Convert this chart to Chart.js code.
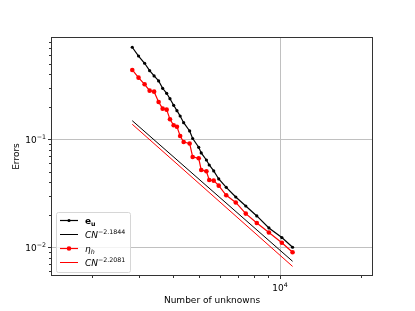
<!DOCTYPE html>
<html>
<head>
<meta charset="utf-8">
<script src="https://cdn.jsdelivr.net/npm/chart.js@4.4.1/dist/chart.umd.min.js"></script>
<style>
  html, body { margin: 0; padding: 0; background: #fff; }
  #wrap { width: 415px; height: 311px; }
</style>
</head>
<body>
<div id="wrap"><canvas id="chart" width="415" height="311"></canvas></div>
<script>
// number of unknowns of each mesh
const unknowns = [2825, 2981, 3140, 3278, 3406, 3540, 3664, 3792, 3901, 4026, 4141, 4256, 4386, 4617,
  4738, 4989, 5097, 5329, 5459, 5673, 5922, 6315, 6852, 7464, 8204, 9100, 10164, 11142];
// error e_u and estimator eta_h
const errU = [0.711, 0.590, 0.5055, 0.4318, 0.3857, 0.3466, 0.2966, 0.2666, 0.2376, 0.2064, 0.1840, 0.1643,
  0.1425, 0.1194, 0.1017, 0.0843, 0.0747, 0.0643, 0.0578, 0.0509, 0.0429, 0.0359, 0.0292, 0.0241, 0.0195,
  0.0151, 0.0123, 0.0100];
const etaH = [0.438, 0.372, 0.323, 0.282, 0.276, 0.2216, 0.192, 0.188, 0.1532, 0.1348, 0.1308, 0.1073,
  0.0944, 0.0914, 0.0686, 0.0667, 0.0520, 0.0505, 0.0420, 0.0414, 0.0372, 0.0303, 0.0260, 0.0205, 0.0168,
  0.0137, 0.0110, 0.0090];
// reference slopes C N^-p (end points)
const fitN = [2825, 11142];
const fitU = [0.1486, 0.00742];
const fitEta = [0.1377, 0.00665];

const xMajor = [1e4];
const xMinor = [2000, 3000, 4000, 5000, 6000, 7000, 8000, 9000, 20000];
const yMajor = [1e-2, 1e-1];
const yMinor = [0.006, 0.007, 0.008, 0.009, 0.02, 0.03, 0.04, 0.05, 0.06, 0.07, 0.08, 0.09,
  0.2, 0.3, 0.4, 0.5, 0.6, 0.7, 0.8];

const FONT = '"DejaVu Sans", sans-serif';
const F9 = `9px ${FONT}`;
const F6 = `6.3px ${FONT}`;

const pts = (xs, ys) => xs.map((x, i) => ({ x, y: ys[i] }));

function richWidth(ctx, parts) {
  let w = 0;
  for (const p of parts) { ctx.font = p[1]; w += ctx.measureText(p[0]).width; }
  return w;
}
function drawRich(ctx, parts, x, y) {
  for (const p of parts) {
    ctx.font = p[1];
    ctx.fillText(p[0], x, y + p[2]);
    x += ctx.measureText(p[0]).width;
  }
  return x;
}
const pow10 = v => [['10', F9, 0], [String(Math.round(Math.log10(v))).replace('-', '\u2212'), F6, -4]];

const axesPlugin = {
  id: 'mplAxes',
  beforeDatasetsDraw(chart) {
    const { ctx, chartArea: a, scales: { x, y } } = chart;
    ctx.save();
    ctx.strokeStyle = '#c0c0c0';
    ctx.lineWidth = 1;
    ctx.beginPath();
    xMajor.forEach(v => { const px = Math.round(x.getPixelForValue(v)) + 0.5; ctx.moveTo(px, a.top); ctx.lineTo(px, a.bottom); });
    yMajor.forEach(v => { const py = Math.round(y.getPixelForValue(v)) + 0.5; ctx.moveTo(a.left, py); ctx.lineTo(a.right, py); });
    ctx.stroke();
    ctx.restore();
  },
  afterDraw(chart) {
    const { ctx, chartArea: a, scales: { x, y } } = chart;
    ctx.save();
    // spines
    ctx.strokeStyle = '#333';
    ctx.lineWidth = 1;
    ctx.strokeRect(a.left + 0.5, a.top + 0.5, a.right - a.left - 1, a.bottom - a.top - 1);
    // ticks
    ctx.beginPath();
    const xt = (v, len) => { const px = Math.round(x.getPixelForValue(v)) + 0.5; ctx.moveTo(px, a.bottom); ctx.lineTo(px, a.bottom + len); };
    const yt = (v, len) => { const py = Math.round(y.getPixelForValue(v)) + 0.5; ctx.moveTo(a.left, py); ctx.lineTo(a.left - len, py); };
    xMajor.forEach(v => xt(v, 3));
    xMinor.forEach(v => xt(v, 2));
    yMajor.forEach(v => yt(v, 3));
    yMinor.forEach(v => yt(v, 2));
    ctx.stroke();

    ctx.fillStyle = '#000';
    ctx.textBaseline = 'alphabetic';
    ctx.textAlign = 'left';
    xMajor.forEach(v => {
      const parts = pow10(v);
      const w = richWidth(ctx, parts);
      drawRich(ctx, parts, x.getPixelForValue(v) - w / 2, 290.5);
    });
    yMajor.forEach(v => {
      const parts = pow10(v);
      const w = richWidth(ctx, parts);
      drawRich(ctx, parts, a.left - 5 - w, y.getPixelForValue(v) + 3.3);
    });
    // axis titles
    ctx.font = F9;
    ctx.textAlign = 'center';
    ctx.fillText('Number of unknowns', (a.left + a.right) / 2, 303);
    ctx.translate(16.5, (a.top + a.bottom) / 2);
    ctx.rotate(-Math.PI / 2);
    ctx.textBaseline = 'middle';
    ctx.fillText('Errors', 0, 0);
    ctx.restore();

    // legend
    ctx.save();
    ctx.beginPath();
    ctx.roundRect(56.5, 212.5, 74, 60, 2);
    ctx.fillStyle = 'rgba(255,255,255,0.8)';
    ctx.fill();
    ctx.strokeStyle = '#d6d6d6';
    ctx.stroke();
    const FB = `bold 9px ${FONT}`, FBs = `bold 6.3px ${FONT}`;
    const FI = `italic 9px ${FONT}`, FIs = `italic 6.3px ${FONT}`;
    const labels = [
      [['e', FB, 0], ['u', FBs, 2]],
      [['CN', FI, 0], ['\u22122.1844', F6, -4]],
      [['\u03b7', FI, 0], ['h', FIs, 2]],
      [['CN', FI, 0], ['\u22122.2081', F6, -4]],
    ];
    const rowY = [220, 234, 248, 262];
    chart.data.datasets.forEach((ds, i) => {
      const cy = rowY[i] + 0.5;
      ctx.strokeStyle = ds.borderColor;
      ctx.lineWidth = ds.borderWidth;
      ctx.beginPath();
      ctx.moveTo(60, cy);
      ctx.lineTo(78, cy);
      ctx.stroke();
      if (ds.pointRadius > 0) {
        ctx.fillStyle = ds.backgroundColor;
        ctx.beginPath();
        ctx.arc(69, cy, ds.pointRadius, 0, Math.PI * 2);
        ctx.fill();
      }
      ctx.fillStyle = '#000';
      ctx.textAlign = 'left';
      ctx.textBaseline = 'alphabetic';
      drawRich(ctx, labels[i], 85, cy + 3.2);
    });
    ctx.restore();
  }
};

new Chart(document.getElementById('chart'), {
  type: 'line',
  data: {
    datasets: [
      { label: 'e_u', data: pts(unknowns, errU), borderColor: '#000', backgroundColor: '#000',
        borderWidth: 1.2, pointRadius: 1.6, pointBorderWidth: 0, order: 4 },
      { label: 'CN^-2.1844', data: pts(fitN, fitU), borderColor: '#000', backgroundColor: '#000',
        borderWidth: 1, pointRadius: 0, order: 3 },
      { label: 'eta_h', data: pts(unknowns, etaH), borderColor: '#ff0000', backgroundColor: '#ff0000',
        borderWidth: 1.2, pointRadius: 2.3, pointBorderWidth: 0, order: 2 },
      { label: 'CN^-2.2081', data: pts(fitN, fitEta), borderColor: '#ff0000', backgroundColor: '#ff0000',
        borderWidth: 1, pointRadius: 0, order: 1 },
    ],
  },
  options: {
    responsive: false,
    animation: false,
    devicePixelRatio: 1,
    layout: { padding: { left: 51, top: 37, right: 42, bottom: 35 } },
    plugins: { legend: { display: false }, tooltip: { enabled: false } },
    elements: { line: { tension: 0 } },
    scales: {
      x: { type: 'logarithmic', min: 1409, max: 22180, display: false },
      y: { type: 'logarithmic', min: 0.00542, max: 0.885, display: false },
    },
  },
  plugins: [axesPlugin],
});
</script>
</body>
</html>
